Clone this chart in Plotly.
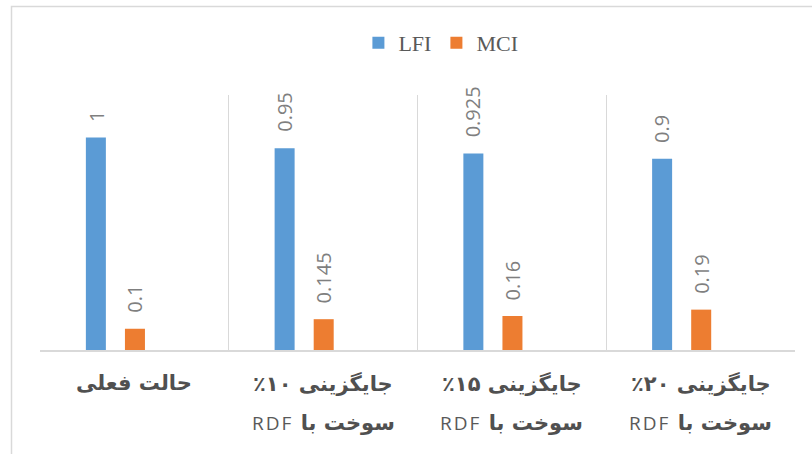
import plotly.graph_objects as go

# ---- data ----
line1 = ["حالت فعلی", "جایگزینی ۱۰٪", "جایگزینی ۱۵٪", "جایگزینی ۲۰٪"]
line2_fa = ["", "سوخت با", "سوخت با", "سوخت با"]
line2_en = ["", "RDF", "RDF", "RDF"]
categories = ["c1", "c2", "c3", "c4"]
lfi = [1, 0.95, 0.925, 0.9]
mci = [0.1, 0.145, 0.16, 0.19]
lfi_labels = ["1", "0.95", "0.925", "0.9"]
mci_labels = ["0.1", "0.145", "0.16", "0.19"]

BLUE = "#5B9BD5"
ORANGE = "#ED7D31"
GRID = "#D9D9D9"

W, H = 812, 454
ML, MR, MT, MB = 40, 17, 95, 104
plot_w = W - ML - MR
cat_px = plot_w / len(categories)

bar_w = 0.106
lfi_off = -0.257
mci_off = -0.050

fig = go.Figure()
fig.add_trace(go.Bar(x=categories, y=lfi, name="LFI", marker_color=BLUE,
                     width=bar_w, offset=lfi_off, marker_line_width=0))
fig.add_trace(go.Bar(x=categories, y=mci, name="MCI", marker_color=ORANGE,
                     width=bar_w, offset=mci_off, marker_line_width=0))

annotations = []
label_font = dict(family="Open Sans, Liberation Sans, sans-serif", size=20, color="#7F7F7F")
for vals, labs, off in ((lfi, lfi_labels, lfi_off), (mci, mci_labels, mci_off)):
    for c, v, t in zip(categories, vals, labs):
        annotations.append(dict(x=c, y=v, xref="x", yref="y", text=t, showarrow=False,
                                textangle=-90, yanchor="bottom", xanchor="center",
                                xshift=(off + bar_w / 2) * cat_px, yshift=14,
                                font=label_font))

ph = H - MT - MB
y1 = (350 - 383) / ph
y2 = (350 - 423) / ph
for c, a, b, e in zip(categories, line1, line2_fa, line2_en):
    annotations.append(dict(x=c, y=y1, xref="x", yref="paper",
                            text="\u202b" + a + "\u202c", showarrow=False,
                            yanchor="middle", xanchor="center",
                            font=dict(family="DejaVu Sans", size=21, color="#505050", weight="bold")))
    if b:
        txt = ("<b>\u202b" + b + " </b>"
               + "<span style='font-family:Open Sans;font-weight:normal;font-size:19px;"
               + "letter-spacing:2px;color:#595959'>" + e + "\u202c</span>")
        annotations.append(dict(x=c, y=y2, xref="x", yref="paper", text=txt, showarrow=False,
                                yanchor="middle", xanchor="center",
                                font=dict(family="DejaVu Sans", size=21, color="#505050")))

shapes = [dict(type="rect", xref="paper", yref="paper",
               x0=(11.5 - ML) / plot_w, x1=(820 - ML) / plot_w,
               y0=(MT + ph - 460) / ph, y1=(MT + ph - 6.5) / ph,
               line=dict(color=GRID, width=1.5), fillcolor="rgba(0,0,0,0)", layer="below")]

fig.update_layout(
    width=W, height=H,
    margin=dict(l=ML, r=MR, t=MT, b=MB),
    paper_bgcolor="white", plot_bgcolor="white",
    barmode="group",
    showlegend=True,
    legend=dict(orientation="h", x=0.531, xanchor="center", y=1.204, yanchor="middle",
                font=dict(family="Liberation Serif", size=22, color="#595959"),
                itemwidth=30, traceorder="normal"),
    xaxis=dict(type="category", categoryorder="array", categoryarray=categories,
               range=[-0.5, 3.5], tickson="boundaries", showgrid=True, gridcolor=GRID,
               gridwidth=1, showticklabels=False, ticks="", showline=True,
               linecolor=GRID, linewidth=1.5, zeroline=False, fixedrange=True),
    yaxis=dict(range=[0, 1.2], visible=False, fixedrange=True),
    annotations=annotations,
    shapes=shapes,
)

fig.write_html("out.html", config={"displayModeBar": False},
               post_script="document.body.style.margin='0';")
